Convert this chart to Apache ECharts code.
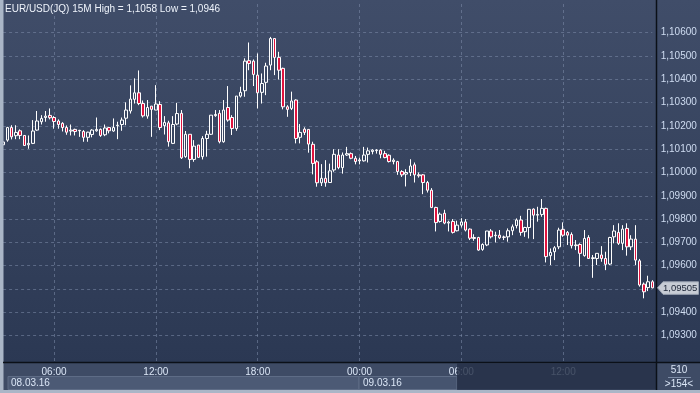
<!DOCTYPE html>
<html><head><meta charset="utf-8">
<script src="https://cdn.jsdelivr.net/npm/echarts@6/dist/echarts.min.js"></script>
<style>html,body{margin:0;padding:0;background:#2e3b56;}#c{width:700px;height:393px;}</style>
</head><body><div id="c"></div>
<script>
// ---- data ----
const titleText = 'EUR/USD(JQ) 15M High = 1,1058 Low = 1,0946';
const startDay = ['08.03.16', '09.03.16'];
const opens = [1.10119,1.10139,1.10193,1.10158,1.10179,1.10159,1.10119,1.10125,1.10182,1.10218,1.10236,1.10245,1.10236,1.10221,1.10211,1.10193,1.10178,1.10185,1.10179,1.10176,1.10151,1.10163,1.10179,1.10185,1.10162,1.10193,1.10178,1.10201,1.10206,1.10233,1.10264,1.10314,1.10342,1.10296,1.10242,1.10285,1.10268,1.10292,1.10201,1.10213,1.10125,1.10208,1.10254,1.10068,1.10164,1.10056,1.10118,1.10068,1.10146,1.10164,1.10244,1.10254,1.10132,1.10279,1.10236,1.10189,1.10328,1.10351,1.10480,1.10478,1.10418,1.10344,1.10387,1.10461,1.10575,1.10494,1.10447,1.10282,1.10275,1.10311,1.10151,1.10186,1.10185,1.10121,1.10046,1.09956,1.09975,1.09957,1.10011,1.10075,1.10021,1.10075,1.10081,1.10061,1.10050,1.10050,1.10078,1.10090,1.10094,1.10096,1.10081,1.10074,1.10047,1.10047,1.10004,1.09993,1.10000,1.10033,1.09990,1.09990,1.09957,1.09924,1.09850,1.09790,1.09825,1.09783,1.09790,1.09750,1.09774,1.09788,1.09757,1.09721,1.09721,1.09670,1.09689,1.09749,1.09729,1.09731,1.09723,1.09724,1.09750,1.09772,1.09796,1.09746,1.09764,1.09843,1.09817,1.09820,1.09846,1.09643,1.09660,1.09681,1.09756,1.09743,1.09734,1.09686,1.09691,1.09643,1.09721,1.09631,1.09631,1.09646,1.09631,1.09607,1.09724,1.09743,1.09696,1.09760,1.09681,1.09714,1.09621,1.09521,1.09506,1.09531];
const highs = [1.10135,1.10196,1.10203,1.10203,1.10185,1.10161,1.10159,1.10225,1.10264,1.10246,1.10264,1.10275,1.10242,1.10228,1.10216,1.10202,1.10206,1.10188,1.10183,1.10182,1.10175,1.10186,1.10236,1.10189,1.10206,1.10196,1.10232,1.10218,1.10236,1.10301,1.10374,1.10404,1.10438,1.10309,1.10311,1.10285,1.10375,1.10306,1.10242,1.10222,1.10242,1.10299,1.10268,1.10178,1.10164,1.10139,1.10118,1.10156,1.10179,1.10246,1.10268,1.10268,1.10311,1.10371,1.10246,1.10328,1.10368,1.10490,1.10558,1.10485,1.10511,1.10425,1.10471,1.10582,1.10575,1.10518,1.10450,1.10289,1.10347,1.10314,1.10208,1.10194,1.10185,1.10132,1.10053,1.10036,1.10053,1.10038,1.10100,1.10100,1.10086,1.10110,1.10086,1.10071,1.10064,1.10110,1.10107,1.10100,1.10100,1.10100,1.10093,1.10078,1.10061,1.10050,1.10010,1.10014,1.10057,1.10043,1.10000,1.09993,1.09964,1.09933,1.09853,1.09828,1.09840,1.09793,1.09800,1.09793,1.09804,1.09800,1.09760,1.09735,1.09724,1.09696,1.09749,1.09757,1.09746,1.09753,1.09729,1.09760,1.09777,1.09803,1.09814,1.09767,1.09843,1.09846,1.09853,1.09886,1.09849,1.09674,1.09684,1.09763,1.09786,1.09749,1.09743,1.09710,1.09696,1.09753,1.09731,1.09646,1.09653,1.09684,1.09660,1.09724,1.09774,1.09782,1.09774,1.09782,1.09731,1.09774,1.09629,1.09528,1.09557,1.09538];
const lows = [1.10113,1.10132,1.10142,1.10143,1.10143,1.10115,1.10102,1.10122,1.10179,1.10206,1.10218,1.10228,1.10188,1.10188,1.10176,1.10162,1.10159,1.10159,1.10153,1.10132,1.10132,1.10151,1.10175,1.10153,1.10156,1.10168,1.10175,1.10143,1.10179,1.10203,1.10253,1.10296,1.10289,1.10236,1.10231,1.10153,1.10268,1.10182,1.10163,1.10111,1.10122,1.10203,1.10058,1.10063,1.10018,1.10046,1.10063,1.10056,1.10068,1.10161,1.10239,1.10125,1.10128,1.10218,1.10161,1.10179,1.10322,1.10325,1.10439,1.10371,1.10275,1.10296,1.10332,1.10439,1.10418,1.10399,1.10271,1.10239,1.10268,1.10125,1.10125,1.10161,1.10085,1.09992,1.09939,1.09942,1.09939,1.09957,1.10003,1.10014,1.09995,1.10071,1.10057,1.10035,1.10035,1.10047,1.10043,1.10078,1.10081,1.10061,1.10061,1.10043,1.10035,1.09990,1.09981,1.09940,1.09985,1.09957,1.09978,1.09907,1.09914,1.09847,1.09747,1.09785,1.09778,1.09747,1.09738,1.09747,1.09764,1.09747,1.09710,1.09707,1.09664,1.09664,1.09684,1.09717,1.09700,1.09714,1.09710,1.09703,1.09731,1.09760,1.09729,1.09724,1.09717,1.09714,1.09789,1.09810,1.09614,1.09603,1.09624,1.09671,1.09724,1.09689,1.09674,1.09667,1.09596,1.09639,1.09629,1.09548,1.09603,1.09617,1.09581,1.09603,1.09696,1.09689,1.09667,1.09643,1.09667,1.09603,1.09510,1.09460,1.09491,1.09503];
const closes = [1.10131,1.10193,1.10153,1.10172,1.10159,1.10116,1.10125,1.10178,1.10221,1.10232,1.10242,1.10235,1.10219,1.10206,1.10193,1.10173,1.10182,1.10176,1.10181,1.10151,1.10173,1.10182,1.10185,1.10159,1.10191,1.10179,1.10193,1.10203,1.10225,1.10268,1.10315,1.10342,1.10296,1.10243,1.10279,1.10271,1.10294,1.10193,1.10215,1.10132,1.10206,1.10253,1.10063,1.10164,1.10056,1.10113,1.10065,1.10146,1.10164,1.10246,1.10249,1.10132,1.10268,1.10225,1.10189,1.10328,1.10344,1.10478,1.10468,1.10421,1.10342,1.10382,1.10457,1.10575,1.10494,1.10439,1.10282,1.10271,1.10307,1.10146,1.10172,1.10172,1.10122,1.10039,1.09956,1.09975,1.09956,1.10007,1.10078,1.10021,1.10075,1.10081,1.10061,1.10047,1.10054,1.10075,1.10093,1.10096,1.10096,1.10078,1.10064,1.10047,1.10053,1.10004,1.09990,1.10000,1.10028,1.09990,1.09986,1.09957,1.09924,1.09850,1.09785,1.09821,1.09783,1.09787,1.09743,1.09774,1.09788,1.09753,1.09718,1.09717,1.09667,1.09691,1.09749,1.09724,1.09731,1.09720,1.09722,1.09750,1.09767,1.09796,1.09743,1.09764,1.09842,1.09817,1.09820,1.09846,1.09639,1.09657,1.09677,1.09753,1.09731,1.09731,1.09686,1.09689,1.09653,1.09717,1.09631,1.09634,1.09653,1.09631,1.09606,1.09721,1.09749,1.09696,1.09757,1.09681,1.09714,1.09624,1.09517,1.09488,1.09531,1.09505];
const yTicks = [1.093,1.094,1.095,1.096,1.097,1.098,1.099,1.100,1.101,1.102,1.103,1.104,1.105,1.106];
const xTickTimes = ['00:00','06:00','12:00','18:00'];
const barCountText = '510';
const visibleText = '>154<';

// categories: 15-minute bars starting 08.03.16 03:00
const categories = [];
(function(){
  const pad = n => (n < 10 ? '0' : '') + n;
  const t0 = Date.UTC(2016, 2, 8, 3, 0);
  for (let i = 0; i < opens.length; i++) {
    const d = new Date(t0 + i * 15 * 60000);
    categories.push(pad(d.getUTCDate()) + '.' + pad(d.getUTCMonth() + 1) + '.16 ' + pad(d.getUTCHours()) + ':' + pad(d.getUTCMinutes()));
  }
})();
const candleData = opens.map((o, i) => [o, closes[i], lows[i], highs[i]]);
const fmt = v => v.toFixed(5).replace('.', ',');
const isTick = (idx, val) => xTickTimes.indexOf(String(val).slice(-5)) >= 0;

const chart = echarts.init(document.getElementById('c'), null, {renderer: 'canvas'});
const FONT = 'Liberation Sans';
const option = {
  animation: false,
  backgroundColor: '#2e3b56',
  grid: {left: 3.1, right: 47.7, top: 4, bottom: 30, containLabel: false},
  xAxis: {
    type: 'category', data: categories, boundaryGap: false,
    axisLine: {show: false}, axisTick: {show: false},
    axisLabel: {interval: isTick, formatter: v => v.slice(-5), color: '#dbe6f6', fontSize: 10, fontFamily: FONT, margin: 4},
    splitLine: {show: true, interval: isTick, lineStyle: {color: 'rgba(125,140,170,0.55)', type: [3, 3], width: 1}}
  },
  yAxis: {
    type: 'value', position: 'right', min: 1.091824, max: 1.107232, offset: 4.4, scale: true,
    axisLine: {show: false},
    axisTick: {show: false, customValues: yTicks},
    axisLabel: {customValues: yTicks, formatter: fmt, color: '#cfdcf1', fontSize: 10, fontFamily: FONT, margin: 4},
    splitLine: {show: true, lineStyle: {color: 'rgba(125,140,170,0.55)', type: [3, 3], width: 1}}
  },
  series: [{
    type: 'candlestick', data: candleData, barWidth: 3,
    itemStyle: {color: 'rgba(0,0,0,0)', color0: '#e0143e', borderColor: '#ffffff', borderColor0: '#ffffff', borderWidth: 1}
  }],
  graphic: []
};
chart.setOption(option);

const lastClose = closes[closes.length - 1];
const ty = chart.convertToPixel({seriesIndex: 0}, [closes.length - 1, lastClose])[1];
const txt = (x, y, s, o) => Object.assign({type: 'text', x: x, y: y, z: 100, silent: true,
  style: Object.assign({text: s, fill: '#dbe6f6', font: '10px ' + FONT, textVerticalAlign: 'middle'}, o || {})});
chart.setOption({graphic: [
  {type: 'rect', z: -100, silent: true, shape: {x: 0, y: 0, width: 700, height: 363},
    style: {fill: new echarts.graphic.LinearGradient(0, 0, 0, 1, [{offset: 0, color: '#404d69'}, {offset: 0.45, color: '#37445f'}, {offset: 1, color: '#2b3853'}])}},
  // bottom time strip
  {type: 'rect', z: -90, silent: true, shape: {x: 0, y: 363, width: 700, height: 30}, style: {fill: '#3e4b65'}},
  {type: 'rect', z: 60, silent: true, shape: {x: 8, y: 376.5, width: 351, height: 13}, style: {fill: '#4c5a75', stroke: '#5e6c86', lineWidth: 1}},
  {type: 'rect', z: 60, silent: true, shape: {x: 359, y: 376.5, width: 98, height: 13}, style: {fill: '#46546f', stroke: '#5e6c86', lineWidth: 1}},
  txt(11, 383, startDay[0]),
  txt(363, 383, startDay[1]),
  {type: 'rect', z: 90, silent: true, shape: {x: 457, y: 363.5, width: 199, height: 26}, style: {fill: 'rgba(37,47,71,0.82)'}},
  // frame lines
  {type: 'rect', z: 95, silent: true, shape: {x: 0, y: 0, width: 3.5, height: 393}, style: {fill: '#aab6c7'}},
  {type: 'rect', z: 95, silent: true, shape: {x: 0, y: 390, width: 700, height: 3}, style: {fill: '#aab6c7'}},
  {type: 'line', z: 95, silent: true, shape: {x1: 656.5, y1: 0, x2: 656.5, y2: 390}, style: {stroke: '#0b1018', lineWidth: 1.5}},
  {type: 'line', z: 95, silent: true, shape: {x1: 3, y1: 362.5, x2: 700, y2: 362.5}, style: {stroke: '#0b1018', lineWidth: 1.5}},
  // right-bottom counter
  txt(679, 370.5, barCountText, {textAlign: 'center'}),
  {type: 'line', z: 100, silent: true, shape: {x1: 668, y1: 377.5, x2: 691, y2: 377.5}, style: {stroke: '#7d8ca6', lineWidth: 1}},
  txt(679, 384.5, visibleText, {textAlign: 'center'}),
  // title
  txt(5, 9, titleText, {fill: '#eef3fb', font: '10px ' + FONT}),
  // last price tag
  {type: 'polygon', z: 100, silent: true, shape: {points: [[657.5, ty], [663, ty - 6], [698.5, ty - 6], [698.5, ty + 6.5], [663, ty + 6.5]]},
    style: {fill: '#c7ccd5', stroke: '#9aa3b2', lineWidth: 1}},
  txt(663, ty + 0.5, fmt(lastClose), {fill: '#1b2436', font: '9.5px ' + FONT})
]});
</script>
</body></html>
